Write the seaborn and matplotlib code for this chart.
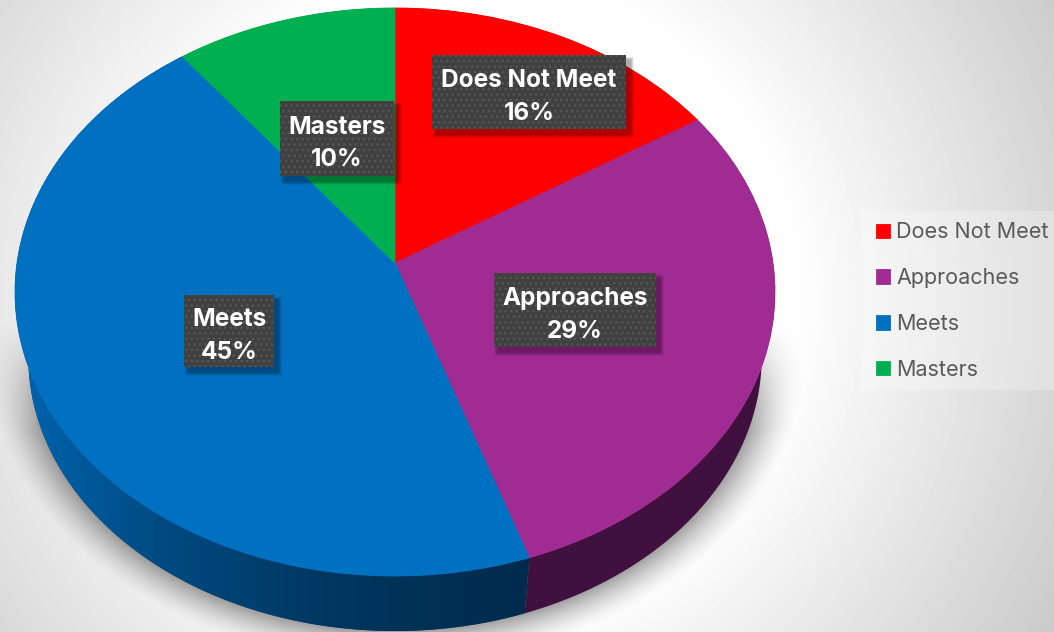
import numpy as np
import seaborn as sns
import matplotlib
matplotlib.use('Agg')
import matplotlib.pyplot as plt
import matplotlib.transforms as mtransforms
from matplotlib.patches import Polygon, Rectangle

categories = ['Does Not Meet', 'Approaches', 'Meets', 'Masters']
values = [16.0, 28.8, 44.8, 10.4]
colors = ['#ff0000', '#a02b93', '#0070c0', '#00b050']
side_colors = ['#7a0000', '#40113f', '#003a66', '#00602c']

# label box corners in picture pixels: left, top, right, bottom
boxes = [(432, 55, 626, 129), (494, 273, 656, 347), (184, 295, 274, 367), (280, 101, 394, 176)]

W, H = 1054, 632
CX, APEX, A, B, P = 395.0, 263.0, 378.0, 254.2, 0.102

sns.set_theme(style='white')
plt.rcParams['font.family'] = ['Inter', 'DejaVu Sans']


def tilt(u, v):
    w = 1 + P * v
    return CX + A * u / w, (APEX - B * v) / w


def lower(x, y):
    # bottom rim of the disc, a bit smaller and further down
    return CX + 0.965 * (x - CX), 292 + 0.965 * (y - 292) + 65


class TiltedPie(mtransforms.Transform):
    input_dims = 2
    output_dims = 2

    def transform_non_affine(self, xy):
        xy = np.asarray(xy, dtype=float)
        x, y = tilt(xy[:, 0], xy[:, 1])
        return np.column_stack([x, y])


fig = plt.figure(figsize=(W / 100, H / 100), dpi=100)
ax = fig.add_axes([0, 0, 1, 1])

# background
yy, xx = np.mgrid[0:H, 0:W]
r = np.hypot(xx - 470, yy - 300)
bg = 1 - 0.19 * np.clip((r - 320) / 320, 0, 1.2)
ax.imshow(bg, cmap='gray', vmin=0, vmax=1, extent=(0, W, H, 0), aspect='auto', zorder=0)

wedges, _ = ax.pie(values, colors=sns.color_palette(colors), startangle=90, counterclock=False,
                   frame=True, wedgeprops={'linewidth': 0})
ax.set_xlim(0, W)
ax.set_ylim(H, 0)
ax.axis('off')
persp = TiltedPie() + ax.transData
for w, c in zip(wedges, colors):
    w.set_transform(persp)
    w.set_zorder(5)
    w.set_clip_on(False)
    w.set_edgecolor(c)
    w.set_linewidth(0.6)

# soft shadow under the disc, fades in towards the bottom
dist = (np.sqrt(((xx - CX) / 366) ** 2 + ((yy - 357) / 274) ** 2) - 1) * 300
fall = np.clip(1 - dist / 36, 0, 1) ** 1.5
fade = np.clip((yy - 320) / 110, 0, 1)
shade = np.zeros((H, W, 4))
shade[..., 3] = 0.36 * fall * fade
ax.imshow(shade, extent=(0, W, H, 0), aspect='auto', zorder=1)

# side walls
for w, c in zip(wedges, side_colors):
    a = np.radians(np.linspace(w.theta1, w.theta2, 200))
    x1, y1 = tilt(np.cos(a), np.sin(a))
    x2, y2 = lower(x1, y1)
    wall = Polygon(np.column_stack([np.r_[x1, x2[::-1]], np.r_[y1, y2[::-1]]]), closed=True,
                   facecolor=c, edgecolor='none', zorder=3)
    ax.add_patch(wall)
    if c == side_colors[2]:
        grad = np.interp(np.arange(W), [20, 160, 330, 530], [0.0, 0.45, 0.8, 1.0])[None, :]
        cmap = matplotlib.colors.LinearSegmentedColormap.from_list('side', ['#0064ae', '#002b4c'])
        im = ax.imshow(grad, cmap=cmap, vmin=0, vmax=1, extent=(0, W, H, 0), aspect='auto', zorder=4)
        im.set_clip_path(wall)

ax.set_xlim(0, W)
ax.set_ylim(H, 0)

# data labels
for name, val, (x0, y0, x1, y1) in zip(categories, values, boxes):
    for k in range(1, 8):
        ax.add_patch(Rectangle((x0 + 4 - k / 2, y0 + 5 - k / 2), x1 - x0 + k, y1 - y0 + k,
                               facecolor='black', edgecolor='none', alpha=0.05, zorder=6))
    ax.add_patch(Rectangle((x0, y0), x1 - x0, y1 - y0, facecolor='#404040', edgecolor='#565656',
                           hatch='...', linewidth=0, zorder=7))
    ax.text((x0 + x1) / 2, (y0 + y1) / 2 + 5, f'{name}\n{val:.0f}%', color='white', fontsize=17.5,
            fontweight='bold', ha='center', va='center', linespacing=1.55, zorder=8)

# legend
ax.add_patch(Rectangle((860, 211), W - 860, 179, facecolor='white', edgecolor='none', alpha=0.25, zorder=2))
ax.legend(wedges, categories, loc='center left', bbox_to_anchor=(876, 301), bbox_transform=ax.transData,
          frameon=False, fontsize=15.5, labelcolor='#595959', handlelength=0.65, handleheight=0.65,
          handletextpad=0.28, labelspacing=1.2, borderpad=0, borderaxespad=0)

fig.savefig('out.png', dpi=100)
